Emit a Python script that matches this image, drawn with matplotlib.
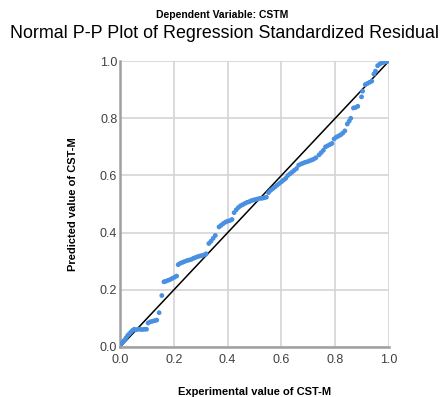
import matplotlib
matplotlib.use("Agg")
import matplotlib.pyplot as plt

plt.rcParams['font.family'] = ['Liberation Sans', 'DejaVu Sans']

exp_prob = [0.004, 0.010, 0.016, 0.022, 0.028, 0.034, 0.040, 0.046, 0.052,
            0.058, 0.066, 0.074, 0.082, 0.090, 0.098,
            0.104, 0.112, 0.120, 0.128, 0.136,
            0.145, 0.155,
            0.163, 0.170, 0.178, 0.186, 0.194, 0.202, 0.210,
            0.216, 0.224, 0.232, 0.240, 0.248, 0.256, 0.264,
            0.272, 0.280, 0.288, 0.296, 0.304, 0.312, 0.320,
            0.330, 0.338, 0.346, 0.354,
            0.368, 0.376, 0.384, 0.392, 0.400, 0.408, 0.416,
            0.424, 0.432, 0.440, 0.448, 0.456, 0.464, 0.472, 0.480,
            0.488, 0.496, 0.504, 0.512, 0.520, 0.528, 0.536, 0.544,
            0.552, 0.560, 0.568, 0.576, 0.584, 0.592, 0.600, 0.608, 0.616,
            0.624, 0.632, 0.640, 0.648, 0.656,
            0.664, 0.672, 0.680, 0.688, 0.696, 0.704, 0.712, 0.720, 0.728,
            0.740, 0.748, 0.756,
            0.764, 0.772, 0.780, 0.788,
            0.796, 0.804, 0.812, 0.820, 0.828, 0.836,
            0.845, 0.852, 0.858,
            0.868, 0.876, 0.884,
            0.898, 0.902,
            0.912, 0.920, 0.928, 0.936,
            0.944, 0.950,
            0.958, 0.966, 0.974, 0.982, 0.990, 0.996]

pred_prob = [0.012, 0.018, 0.024, 0.032, 0.040, 0.046, 0.052, 0.058, 0.062,
             0.060, 0.062, 0.062, 0.061, 0.062, 0.062,
             0.084, 0.088, 0.090, 0.092, 0.094,
             0.120, 0.180,
             0.228, 0.230, 0.233, 0.236, 0.240, 0.244, 0.248,
             0.288, 0.293, 0.296, 0.299, 0.302, 0.304, 0.306,
             0.310, 0.313, 0.316, 0.318, 0.320, 0.322, 0.326,
             0.362, 0.370, 0.380, 0.390,
             0.420, 0.426, 0.432, 0.437, 0.440, 0.442, 0.446,
             0.470, 0.480, 0.488, 0.494, 0.498, 0.502, 0.506, 0.508,
             0.512, 0.514, 0.516, 0.518, 0.520, 0.520, 0.522, 0.524,
             0.540, 0.548, 0.554, 0.560, 0.566, 0.572, 0.578, 0.584, 0.590,
             0.600, 0.606, 0.612, 0.618, 0.624,
             0.636, 0.640, 0.643, 0.646, 0.648, 0.651, 0.654, 0.657, 0.662,
             0.672, 0.680, 0.688,
             0.700, 0.704, 0.708, 0.712,
             0.728, 0.734, 0.738, 0.742, 0.748, 0.756,
             0.780, 0.790, 0.800,
             0.836, 0.838, 0.842,
             0.875, 0.895,
             0.918, 0.922, 0.926, 0.930,
             0.955, 0.965,
             0.984, 0.990, 0.994, 0.996, 0.998, 1.000]

ticks = [0.0, 0.2, 0.4, 0.6, 0.8, 1.0]
tick_labels = ["0.0", "0.2", "0.4", "0.6", "0.8", "1.0"]

fig = plt.figure(figsize=(4.45, 3.97), dpi=100)
ax = fig.add_axes([0.270, 0.126, 0.604, 0.720])

ax.grid(True, color='#d4d4d4', linewidth=1.2)
ax.set_axisbelow(True)
ax.plot([0, 1], [0, 1], color='black', linewidth=1.1, zorder=2)
ax.scatter(exp_prob, pred_prob, s=12, color='#4a90e2', edgecolors='none', zorder=3)

ax.set_xlim(0, 1)
ax.set_ylim(0, 1)
ax.set_xticks(ticks)
ax.set_xticklabels(tick_labels)
ax.set_yticks(ticks)
ax.set_yticklabels(tick_labels)
ax.tick_params(length=0, labelsize=9, colors='#404040')
ax.tick_params(axis='x', pad=5)
ax.tick_params(axis='y', pad=2)

for side in ['top', 'right']:
    ax.spines[side].set_visible(False)
for side in ['left', 'bottom']:
    ax.spines[side].set_color('#a0a0a0')
    ax.spines[side].set_linewidth(1.8)

ax.set_xlabel("Experimental value of CST-M", fontsize=8, fontweight='bold', labelpad=15)
ax.set_ylabel("Predicted value of CST-M", fontsize=8, fontweight='bold', labelpad=16)

fig.text(0.5, 0.962, "Dependent Variable: CSTM", ha='center', va='center',
         fontsize=7.5, fontweight='bold')
fig.text(0.505, 0.915, "Normal P-P Plot of Regression Standardized Residual", ha='center',
         va='center', fontsize=12.9)

fig.savefig("out.png", dpi=100)
